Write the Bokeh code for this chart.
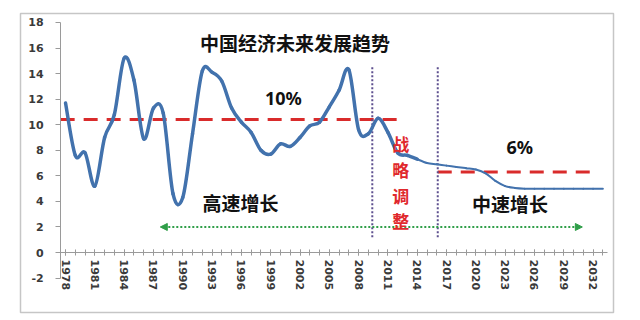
from bokeh.plotting import figure
from bokeh.models import (FixedTicker, Range1d, Label, Arrow, NormalHead,
                          ColumnDataSource)
from bokeh.embed import file_html
from bokeh.resources import INLINE

# ---------------- data ----------------
years_hist = list(range(1978, 2015))
growth_hist = [11.7, 7.6, 7.8, 5.2, 9.0, 10.8, 15.2, 13.5, 8.9, 11.3,
               10.9, 4.6, 4.3, 9.3, 14.2, 14.1, 13.4, 11.3, 10.2, 9.4,
               8.0, 7.7, 8.5, 8.3, 9.0, 9.9, 10.2, 11.4, 12.7, 14.3,
               9.6, 9.3, 10.5, 9.4, 7.8, 7.6, 7.3]
years_fcst = list(range(2014, 2034))
growth_fcst = [7.3, 7.0, 6.9, 6.8, 6.7, 6.6, 6.5, 6.2, 5.6, 5.2,
               5.05, 5.0, 5.0, 5.0, 5.0, 5.0, 5.0, 5.0, 5.0, 5.0]

# average growth levels (red dashed) and the periods they cover
level_values = [10.4, 6.3]
level_start = [1977.5, 2016.1]
level_end = [2012.8, 2032.2]

# phase boundaries (purple dotted)
phase_years = [2009.4, 2016.1]

x_tick_years = list(range(1978, 2033, 3))
y_tick_values = list(range(-2, 19, 2))

title_text = "中国经济未来发展趋势"
phase_labels = ["高速增长", "中速增长"]
level_labels = ["10%", "6%"]
adjust_chars = ["战", "略", "调", "整"]

# ---------------- figure ----------------
# the frame is the chart's outer box; both axes are drawn inside it
p = figure(width=640, height=320, output_backend="svg", toolbar_location=None,
           x_range=Range1d(1973.39, 2034.09), y_range=Range1d(-4.69, 18.70),
           min_border_left=20, min_border_right=27, min_border_top=13,
           min_border_bottom=8)
p.background_fill_color = "white"
p.border_fill_color = "white"
p.outline_line_color = "#c6c6c6"
p.outline_line_width = 1.5
p.grid.visible = False

CJK = "Noto Sans CJK SC"
NUM = "DejaVu Sans"
AX = "#9a9a9a"

# y axis
p.yaxis.fixed_location = 1977.5
p.yaxis.bounds = (-2, 18)
p.yaxis.ticker = FixedTicker(ticks=y_tick_values)
p.yaxis.major_label_overrides = {v: str(v) for v in y_tick_values}
p.yaxis.axis_line_color = AX
p.yaxis.major_tick_line_color = AX
p.yaxis.major_tick_in = 0
p.yaxis.major_tick_out = 5
p.yaxis.minor_tick_line_color = None
p.yaxis.major_label_standoff = 12
p.yaxis.major_label_text_font = NUM
p.yaxis.major_label_text_font_style = "bold"
p.yaxis.major_label_text_font_size = "11px"
p.yaxis.major_label_text_color = "#3a3a3a"

# x axis drawn through y = 0
p.xaxis.fixed_location = 0
p.xaxis.bounds = (1977.5, 2033.5)
p.xaxis.ticker = FixedTicker(ticks=x_tick_years, minor_ticks=list(range(1978, 2034)))
p.xaxis.axis_line_color = AX
p.xaxis.major_tick_line_color = AX
p.xaxis.minor_tick_line_color = AX
p.xaxis.major_tick_in = 3
p.xaxis.major_tick_out = 3
p.xaxis.minor_tick_in = 3
p.xaxis.minor_tick_out = 3
p.xaxis.major_label_orientation = "vertical"
p.xaxis.major_label_standoff = 4
p.xaxis.major_label_text_font = NUM
p.xaxis.major_label_text_font_style = "bold"
p.xaxis.major_label_text_font_size = "11px"
p.xaxis.major_label_text_color = "#3a3a3a"

# red dashed average levels
lv = ColumnDataSource(dict(x0=level_start, x1=level_end, y=level_values))
p.segment(x0="x0", y0="y", x1="x1", y1="y", source=lv, line_color="#d92b2b",
          line_width=3, line_dash="14 9")

# purple dotted phase boundaries
ph = ColumnDataSource(dict(x=phase_years, y0=[1.2] * len(phase_years),
                           y1=[14.6] * len(phase_years)))
p.segment(x0="x", y0="y0", x1="x", y1="y1", source=ph, line_color="#5d4f8f",
          line_width=2, line_dash="2 2")

# green double arrow
head = dict(size=7, fill_color="#2f9e48", line_color="#2f9e48")
p.add_layout(Arrow(start=NormalHead(**head), end=NormalHead(**head),
                   x_start=1987.7, y_start=2, x_end=2030.9, y_end=2,
                   line_color="#2f9e48", line_width=2, line_dash="2 2"))


# growth series, drawn as a smoothed curve (Bezier pieces through the points)
def smooth_source(xs, ys):
    n = len(xs)
    d = dict(x0=[], y0=[], x1=[], y1=[], cx0=[], cy0=[], cx1=[], cy1=[])
    for i in range(n - 1):
        a, b = max(i - 1, 0), min(i + 2, n - 1)
        d["x0"].append(xs[i]); d["y0"].append(ys[i])
        d["x1"].append(xs[i + 1]); d["y1"].append(ys[i + 1])
        d["cx0"].append(xs[i] + (xs[i + 1] - xs[a]) / 6)
        d["cy0"].append(ys[i] + (ys[i + 1] - ys[a]) / 6)
        d["cx1"].append(xs[i + 1] - (xs[b] - xs[i]) / 6)
        d["cy1"].append(ys[i + 1] - (ys[b] - ys[i]) / 6)
    return ColumnDataSource(d)


p.bezier(x0="x0", y0="y0", x1="x1", y1="y1", cx0="cx0", cy0="cy0",
         cx1="cx1", cy1="cy1", source=smooth_source(years_hist, growth_hist),
         line_color="#4272ad", line_width=3.5, line_cap="round")
p.bezier(x0="x0", y0="y0", x1="x1", y1="y1", cx0="cx0", cy0="cy0",
         cx1="cx1", cy1="cy1", source=smooth_source(years_fcst, growth_fcst),
         line_color="#4272ad", line_width=2, line_cap="round")


# texts
def lab(x, y, t, font, size, color="#111111"):
    p.add_layout(Label(x=x, y=y, text=t, text_font=font, text_font_size=size,
                       text_font_style="bold", text_color=color,
                       text_align="center", text_baseline="middle"))


lab(2001.5, 16.4, title_text, CJK, "19px")
lab(2000.3, 12.1, level_labels[0], "Noto Sans", "18px")
lab(2024.5, 8.25, level_labels[1], "Noto Sans", "18px")
lab(1995.9, 3.9, phase_labels[0], CJK, "19px")
lab(2023.5, 3.8, phase_labels[1], CJK, "19px")
for i, ch in enumerate(adjust_chars):
    lab(2012.3, 8.5 - 2 * i, ch, CJK, "17px", "#e0282c")

open("out.html", "w").write(file_html(p, INLINE))
